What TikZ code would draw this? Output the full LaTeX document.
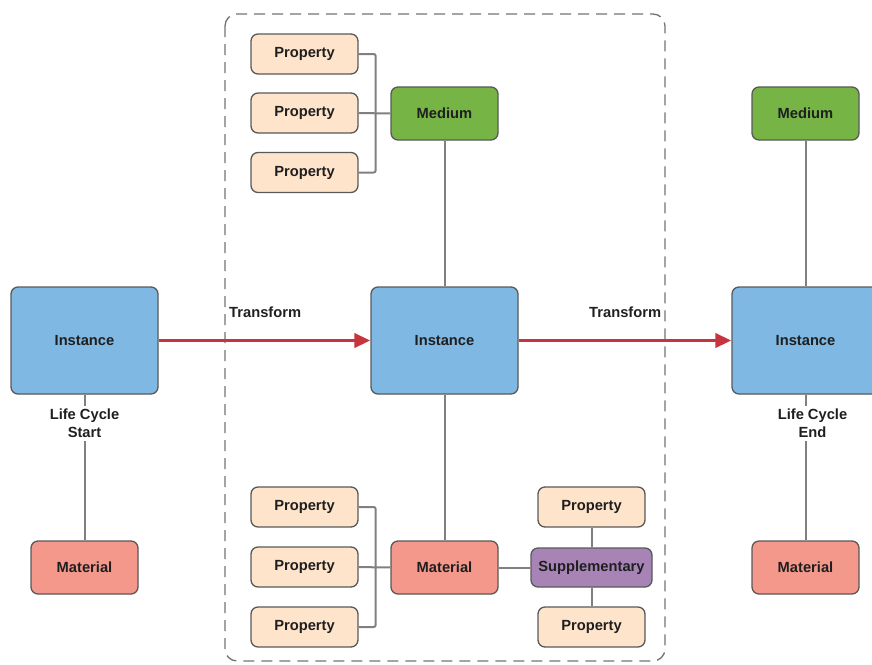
\documentclass[tikz,border=0pt]{standalone}
\usepackage{fontspec}
\setmainfont{Liberation Sans}
\usetikzlibrary{arrows.meta}
\definecolor{instfill}{RGB}{128,184,228}
\definecolor{medfill}{RGB}{118,180,70}
\definecolor{matfill}{RGB}{244,152,140}
\definecolor{propfill}{RGB}{255,228,204}
\definecolor{supfill}{RGB}{168,132,182}
\definecolor{flowred}{RGB}{200,52,62}
\begin{document}
\begin{tikzpicture}[x=1pt,y=-1pt,
  box/.style={draw=black!65, line width=1.3pt, rounded corners=7pt, inner sep=0pt,
    font=\bfseries\fontsize{14.7}{17}\selectfont, text=black!88},
  inst/.style={box, fill=instfill, minimum width=147pt, minimum height=107pt},
  med/.style={box, fill=medfill, minimum width=107pt, minimum height=53pt},
  mat/.style={box, fill=matfill, minimum width=107pt, minimum height=53pt},
  prop/.style={box, fill=propfill, minimum width=107pt, minimum height=40pt},
  supp/.style={box, fill=supfill, minimum width=121pt, minimum height=39pt},
  lbl/.style={font=\bfseries\fontsize{14.7}{18}\selectfont, text=black!88, align=center, inner sep=3pt},
  link/.style={draw=black!50, line width=2pt},
  flow/.style={draw=flowred, line width=3.8pt, -{Triangle[length=16pt,width=14pt]}}]
  \useasboundingbox (0,0) rectangle (872,664);
  % stage frame
  \draw[black!55, line width=1.3pt, dash pattern=on 11pt off 7pt, rounded corners=12pt]
    (225,14) rectangle (665,661);
  % instances
  \node[inst] (instL) at (84.5,340.5) {Instance};
  \node[inst] (instM) at (444.5,340.5) {Instance};
  \node[inst] (instR) at (805.5,340.5) {Instance};
  \node[med] (medM) at (444.5,113.5) {Medium};
  \node[med] (medR) at (805.5,113.5) {Medium};
  \node[mat] (matL) at (84.5,567.5) {Material};
  \node[mat] (matM) at (444.5,567.5) {Material};
  \node[mat] (matR) at (805.5,567.5) {Material};
  \node[supp] (supM) at (591.5,567.5) {Supplementary};
  % properties
  \node[prop] (pt1) at (304.5,54) {Property};
  \node[prop] (pt2) at (304.5,113) {Property};
  \node[prop] (pt3) at (304.5,172.5) {Property};
  \node[prop] (pb1) at (304.5,507) {Property};
  \node[prop] (pb2) at (304.5,567) {Property};
  \node[prop] (pb3) at (304.5,627) {Property};
  \node[prop] (ps1) at (591.5,507) {Property};
  \node[prop] (ps2) at (591.5,627) {Property};
  % labels
  \node[lbl] (lcs) at (84.5,423.5) {Life Cycle\\Start};
  \node[lbl] (lce) at (812.5,423.5) {Life Cycle\\End};
  \node[lbl, anchor=west, inner sep=0pt] (tr1) at (229,312) {Transform};
  \node[lbl, anchor=west, inner sep=0pt] (tr2) at (589,312) {Transform};
  % links
  \draw[link] (instL) -- (lcs.north -| instL.south);
  \draw[link] (lcs.south -| instL.south) -- (matL);
  \draw[link] (instR) -- (lce.north -| instR.south);
  \draw[link] (lce.south -| instR.south) -- (matR);
  \draw[link] (medR) -- (instR);
  \draw[link] (medM) -- (instM) -- (matM) -- (supM);
  \draw[link] (supM) -- (ps1);
  \draw[link] (supM) -- (ps2);
  \draw[link, rounded corners=2pt] (pt1.east) -- ++(17,0) |- (pt3.east);
  \draw[link] (pt2) -- (medM);
  \draw[link, rounded corners=2pt] (pb1.east) -- ++(17,0) |- (pb3.east);
  \draw[link] (pb2) -- (matM);
  % transforms
  \draw[flow] (instL) -- (instM);
  \draw[flow] (instM) -- (instR);
\end{tikzpicture}
\end{document}
